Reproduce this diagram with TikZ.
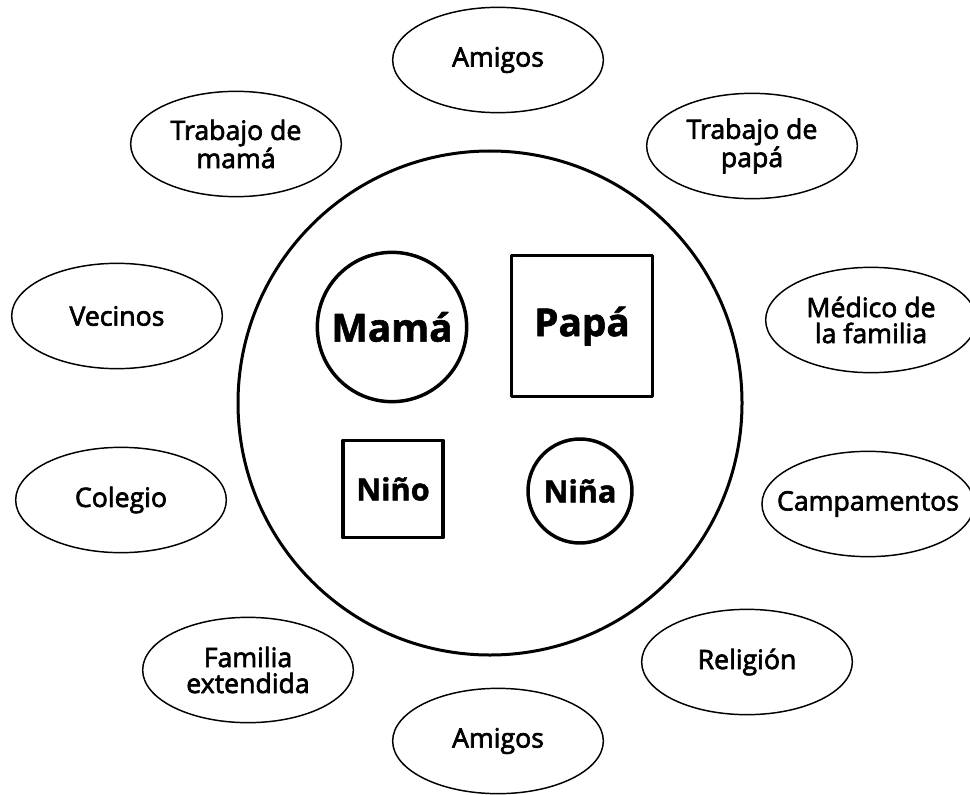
\documentclass[tikz,border=0pt]{standalone}
\usepackage{fontspec}
\setmainfont{Open Sans}[BoldFeatures={FakeBold=1.5}]
\newfontfamily\medio{Open Sans}[FakeBold=2.5]
\usetikzlibrary{shapes.geometric}

\begin{document}
\begin{tikzpicture}[x=0.75pt,y=-0.75pt,line join=round,
	entorno/.style={draw,ellipse,line width=1.1pt,minimum width=158pt,minimum height=79pt,inner sep=0pt,inner xsep=-12pt,align=center,font=\medio\fontsize{20}{19.5}\selectfont},
	mujer/.style={draw,circle,line width=2.6pt,inner sep=0pt,font=\bfseries},
	hombre/.style={draw,rectangle,line width=2.6pt,inner sep=0pt,font=\bfseries}]
	\useasboundingbox (0,0) rectangle (970,795);
	\clip (0,0) rectangle (970,795);
	% hogar
	\node[draw,circle,line width=2.25pt,minimum size=378pt] (hogar) at (490,403) {};
	\node[mujer,minimum size=112pt,font=\bfseries\fontsize{29}{29}\selectfont] (mama) at (392,327) {Mamá};
	\node[hombre,minimum width=106pt,minimum height=106pt,font=\bfseries\fontsize{29}{29}\selectfont] (papa) at (582,326) {Papá};
	\node[hombre,minimum width=75pt,minimum height=73pt,font=\bfseries\fontsize{23}{23}\selectfont] (nino) at (393,489) {Niño};
	\node[mujer,minimum size=78pt,font=\bfseries\fontsize{23}{23}\selectfont] (nina) at (580,491) {Niña};
	% entorno
	\node[entorno] (amigosA) at (498,60) {Amigos};
	\node[entorno] (trabmama) at (236,144) {Trabajo de\\mamá};
	\node[entorno] (trabpapa) at (752,146) {Trabajo de\\papá};
	\node[entorno] (vecinos) at (117,316) {Vecinos};
	\node[entorno] (medico) at (871,320) {Médico de\\la familia};
	\node[entorno] (colegio) at (121,500) {Colegio};
	\node[entorno] (campam) at (868,504) {Campamentos};
	\node[entorno] (famext) at (248,670) {Familia\\extendida};
	\node[entorno] (religion) at (747,662) {Religión};
	\node[entorno] (amigosB) at (498,741) {Amigos};
\end{tikzpicture}
\end{document}
